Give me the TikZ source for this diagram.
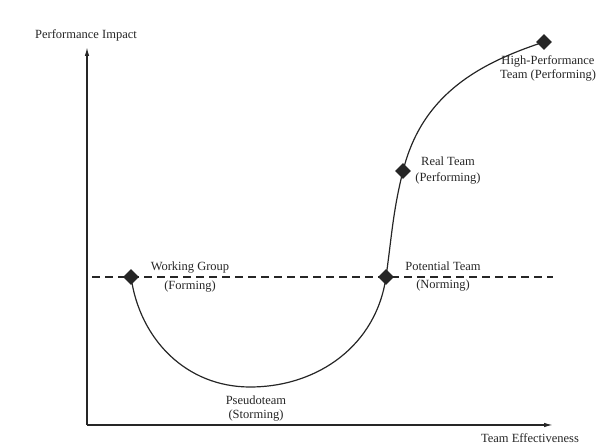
\documentclass[tikz,border=0pt]{standalone}
\usepackage{fontspec}
\setmainfont{Liberation Serif}
\usetikzlibrary{shapes.geometric, arrows.meta, positioning}

\begin{document}
\begin{tikzpicture}[x=1pt, y=1pt,
    stage/.style={diamond, fill=black!85, inner sep=0pt, minimum size=16pt},
    lbl/.style={align=center, text=black!85, font=\fontsize{12.5}{14}\selectfont},
    axis/.style={draw=black!85, line width=1.3pt, -{Latex[length=9pt,width=4.5pt]}}]
  \useasboundingbox (0,0) rectangle (598,444);

  % axes
  \coordinate (O) at (87,19);
  \coordinate (ytip) at (87,397);
  \coordinate (xtip) at (553,19);
  \draw[axis] (O) -- (ytip);
  \draw[axis] (O) -- (xtip);
  \node[lbl] (yl) at (86,409) {Performance Impact};
  \node[lbl] (xl) at (530,6) {Team Effectiveness};

  % dashed threshold
  \coordinate (dl) at (92,167);
  \coordinate (dr) at (553,167);
  \draw[black!85, line width=1.3pt, dash pattern=on 8pt off 5pt] (dl) -- (dr);

  % stages
  \node[stage] (WG) at (131,167) {};
  \coordinate (PS) at (250,57);
  \node[stage] (PT) at (386,167) {};
  \node[stage] (RT) at (403,273) {};
  \node[stage] (HP) at (544,402) {};

  \draw[black!85, line width=1.2pt] (WG.center) to[out=-82, in=180] (PS)
    to[out=0, in=-98] (PT.center) to[out=82, in=-104] (RT.center)
    to[out=76, in=198] (HP.center);

  \node[lbl, xshift=59pt] at (WG) {Working Group\\[5pt](Forming)};
  \node[lbl, xshift=57pt] at (PT) {Potential Team\\[4pt](Norming)};
  \node[lbl, xshift=45pt] at (RT) {Real Team\\[2pt](Performing)};
  \node[lbl, xshift=4pt, yshift=-26pt] at (HP) {High-Performance\\Team (Performing)};
  \node[lbl, xshift=6pt, yshift=-22pt] at (PS) {Pseudoteam\\(Storming)};
\end{tikzpicture}
\end{document}
